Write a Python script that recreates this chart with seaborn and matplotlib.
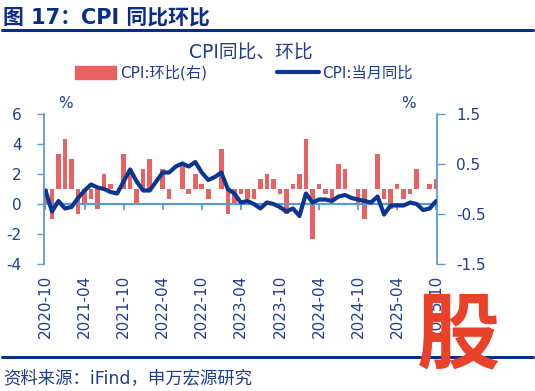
import matplotlib
matplotlib.use('Agg')
import matplotlib.pyplot as plt
from matplotlib.patches import Patch
from matplotlib.lines import Line2D
import seaborn as sns
import pandas as pd

# CPI monthly, 2020-10 .. 2025-10
months = pd.date_range('2020-10-01', periods=61, freq='MS').strftime('%Y-%m').tolist()
cpi_yoy = [0.9, -0.5, 0.2,
           -0.3, -0.2, 0.4, 0.9, 1.3, 1.1, 1.0, 0.8, 0.7, 1.5, 2.3, 1.5,
           0.9, 0.9, 1.5, 2.1, 2.1, 2.5, 2.7, 2.5, 2.8, 2.1, 1.6, 1.8,
           2.1, 1.0, 0.7, 0.1, 0.2, 0.0, -0.3, 0.1, 0.0, -0.2, -0.5, -0.3,
           -0.8, 0.7, 0.1, 0.3, 0.3, 0.2, 0.5, 0.6, 0.4, 0.3, 0.2, 0.1,
           0.5, -0.7, -0.1, -0.1, -0.1, 0.1, 0.0, -0.4, -0.3, 0.2]
cpi_mom = [-0.3, -0.6, 0.7,
           1.0, 0.6, -0.5, -0.3, -0.2, -0.4, 0.3, 0.1, 0.0, 0.7, 0.4, -0.3,
           0.4, 0.6, 0.0, 0.4, -0.2, 0.0, 0.5, -0.1, 0.3, 0.1, -0.2, 0.0,
           0.8, -0.5, -0.3, -0.1, -0.2, -0.2, 0.2, 0.3, 0.2, -0.1, -0.5, 0.1,
           0.3, 1.0, -1.0, 0.1, -0.1, -0.2, 0.5, 0.4, 0.0, -0.3, -0.6, 0.0,
           0.7, -0.2, -0.4, 0.1, -0.2, -0.1, 0.4, 0.0, 0.1, 0.2]
left_ticks = [-4, -2, 0, 2, 4, 6]
right_ticks = [-1.5, -0.5, 0.5, 1.5]

df = pd.DataFrame({'idx': range(len(months)), 'month': months,
                   'yoy': cpi_yoy, 'mom': cpi_mom})

sns.set_style('white')
plt.rcParams['font.family'] = ['DejaVu Sans', 'Noto Sans CJK SC']
plt.rcParams['axes.unicode_minus'] = False

RED = '#e86262'
NAVY = '#0a3591'
TITLE_C = '#0b2d8a'
TXT_C = '#1f3c8e'
SPINE_C = '#5b9bd5'

fig = plt.figure(figsize=(5.35, 3.91), dpi=100)
ax = fig.add_axes([44 / 535, 1 - 264 / 391, (436.5 - 44) / 535, 150 / 391])
ax2 = ax.twinx()

sns.barplot(data=df, x='idx', y='mom', ax=ax2, color=RED, saturation=1,
            width=0.7, errorbar=None, linewidth=0, edgecolor='none')
sns.lineplot(data=df, x='idx', y='yoy', ax=ax, color=NAVY, linewidth=3)

ax.set_zorder(ax2.get_zorder() + 1)
ax.patch.set_visible(False)

ax.set_ylim(-4, 6)
ax2.set_ylim(-1.5, 1.5)
ax.set_xlim(-0.23, 60.05)
for a in (ax, ax2):
    a.set_xlabel('')
    a.set_ylabel('')

ax.set_yticks(left_ticks)
ax.tick_params(axis='y', direction='out', length=5, width=1, color=SPINE_C,
               labelcolor=TXT_C, labelsize=11, pad=11)
ax2.set_yticks(right_ticks, labels=[f'{v:.1f}' for v in right_ticks])
ax2.tick_params(axis='y', direction='out', length=6, width=1, color=SPINE_C,
                labelcolor=TXT_C, labelsize=11, pad=8)

pos = list(range(0, 61, 6))
ax.set_xticks(pos, labels=[months[i] for i in pos], rotation=90)
ax.tick_params(axis='x', length=0, pad=8, labelsize=11, labelcolor=TXT_C)

for s in ['top', 'right', 'bottom']:
    ax.spines[s].set_visible(False)
for s in ['top', 'left', 'bottom']:
    ax2.spines[s].set_visible(False)
ax.spines['left'].set_color(SPINE_C)
ax.spines['left'].set_linewidth(1.3)
ax2.spines['right'].set_color(SPINE_C)
ax2.spines['right'].set_linewidth(1.3)

# zero line with half-year ticks
sec = ax.secondary_xaxis(0.4)
sec.set_xticks(pos)
sec.tick_params(axis='x', direction='out', length=4, width=1.3,
                color=SPINE_C, labelbottom=False)
sec.spines['bottom'].set_color(SPINE_C)
sec.spines['bottom'].set_linewidth(1.6)

handles = [Patch(color=RED), Line2D([], [], color=NAVY, linewidth=3)]
fig.legend(handles, ['CPI:环比(右)', 'CPI:当月同比'], loc='center left',
           bbox_to_anchor=(75 / 535, 1 - 73 / 391), ncol=2, frameon=False,
           fontsize=11, handlelength=2.7, handleheight=0.85, handletextpad=0.25,
           columnspacing=4.6, borderpad=0, borderaxespad=0, labelcolor=TXT_C)

fig.text(3 / 535, 1 - 17 / 391, '图 17：CPI 同比环比', fontsize=15,
         fontweight='bold', color=TITLE_C, ha='left', va='center')
fig.text(251 / 535, 1 - 53 / 391, 'CPI同比、环比', fontsize=13.5,
         color=TXT_C, ha='center', va='center')
fig.text(65 / 535, 1 - 104 / 391, '%', fontsize=11, color=TXT_C,
         ha='center', va='center')
fig.text(408 / 535, 1 - 104 / 391, '%', fontsize=11, color=TXT_C,
         ha='center', va='center')
fig.text(3 / 535, 1 - 378 / 391, '资料来源：iFind，申万宏源研究', fontsize=12.5,
         color=TXT_C, ha='left', va='center')

fig.add_artist(Line2D([0.004, 0.996], [1 - 30 / 391] * 2, color=TITLE_C,
                      linewidth=2.2, transform=fig.transFigure))
fig.add_artist(Line2D([0.004, 0.996], [1 - 357 / 391] * 2, color=TITLE_C,
                      linewidth=2.2, transform=fig.transFigure))

fig.text(458 / 535, 1 - 338 / 391, '股', fontsize=60, fontweight='bold',
         color='#ea4129', ha='center', va='center', zorder=10)

fig.savefig('out.png', dpi=100)
